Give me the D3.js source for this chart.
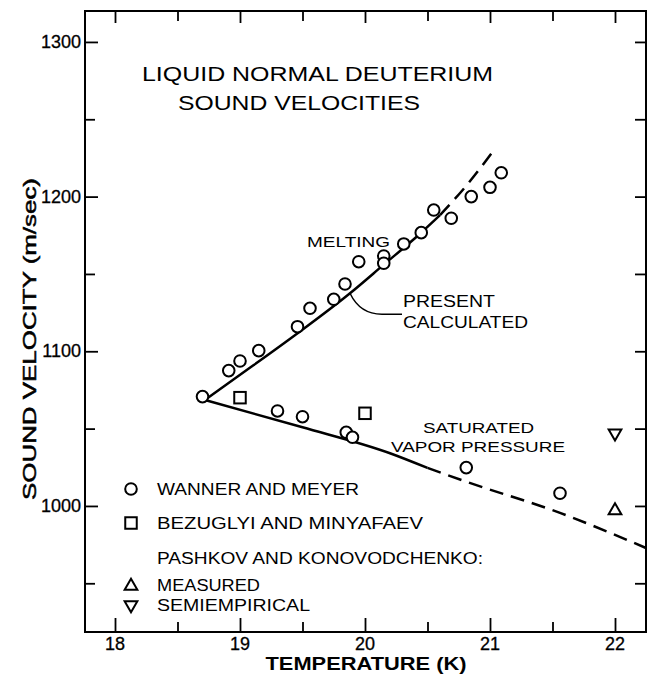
<!DOCTYPE html>
<html><head><meta charset="utf-8">
<script src="https://cdn.jsdelivr.net/npm/d3@7"></script>
<style>
body{margin:0;background:#fff}
text{font-family:"Liberation Sans",Arial,sans-serif;fill:#000}
</style>
</head><body>
<svg id="c" width="653" height="677"></svg>
<script>
// ---- data ----
const xMajorTicks = [18, 19, 20, 21, 22];
const xMinorTicks = [18.5, 19.5, 20.5, 21.5];
const yMajorTicks = [1000, 1100, 1200, 1300];
const yMinorTicks = [950, 1050, 1150, 1250];

// Wanner and Meyer (circles)
const wannerT = [18.70, 18.91, 19.00, 19.15, 19.46, 19.56, 19.75, 19.84, 19.95, 20.15, 20.15, 20.31, 20.45, 20.55, 20.69, 20.85, 21.00, 21.09,
                 19.30, 19.50, 19.85, 19.90, 20.81, 21.56];
const wannerV = [1070.7, 1087.5, 1093.7, 1100.4, 1115.9, 1127.8, 1133.6, 1143.5, 1157.9, 1161.6, 1156.9, 1169.4, 1176.7, 1191.3, 1186.0, 1200.0, 1206.0, 1215.4,
                 1061.4, 1057.7, 1047.6, 1044.4, 1024.8, 1008.2];
// Bezuglyi and Minyafaev (squares)
const bezuglyiT = [19.00, 20.00];
const bezuglyiV = [1070.0, 1059.9];
// Pashkov and Konovodchenko
const pashkovMeasT = [22.0];
const pashkovMeasV = [997];
const pashkovSemiT = [22.0];
const pashkovSemiV = [1047];

// Present calculated curves
const meltSolidT = [18.72, 18.97, 19.45, 19.88, 20.15, 20.44, 20.60];
const meltSolidV = [1068.5, 1083.0, 1111.0, 1137.5, 1156.0, 1176.0, 1188.0];
const meltDashT = [20.60, 20.82, 21.04];
const meltDashV = [1188.0, 1208.0, 1231.0];
const svpSolidT = [18.72, 19.50, 20.20, 20.50];
const svpSolidV = [1068.5, 1050.9, 1034.1, 1024.6];
const svpDashT = [20.50, 20.81, 21.56, 22.248];
const svpDashV = [1024.6, 1015.7, 995.5, 972.8];

// ---- chart ----
const svg = d3.select("#c");
const L = 85, R = 646, T = 11, B = 632;
const x = d3.scaleLinear().domain([17.76, 22.248]).range([L, R]);
const y = d3.scaleLinear().domain([918.5, 1320]).range([B, T]);

// frame
svg.append("rect").attr("x", L).attr("y", T).attr("width", R - L).attr("height", B - T)
  .attr("fill", "none").attr("stroke", "#000").attr("stroke-width", 2);

function ax(gen, tr, vals, size) {
  const g = svg.append("g").attr("transform", tr)
    .call(gen.tickValues(vals).tickSize(size).tickFormat(""));
  g.select(".domain").remove();
  g.selectAll(".tick line").attr("stroke", "#000").attr("stroke-width", 1.8);
  return g;
}
// bottom
ax(d3.axisBottom(x), `translate(0,${B})`, xMajorTicks, -14);
ax(d3.axisBottom(x), `translate(0,${B})`, xMinorTicks, -10);
// top
ax(d3.axisTop(x), `translate(0,${T})`, xMajorTicks, -12);
ax(d3.axisTop(x), `translate(0,${T})`, xMinorTicks, -10);
// left
ax(d3.axisLeft(y), `translate(${L},0)`, yMajorTicks, -13);
ax(d3.axisLeft(y), `translate(${L},0)`, yMinorTicks, -10);
// right
ax(d3.axisRight(y), `translate(${R},0)`, yMajorTicks, -11);
ax(d3.axisRight(y), `translate(${R},0)`, yMinorTicks, -11);

// tick labels
svg.append("g").selectAll("text").data(xMajorTicks).join("text")
  .attr("x", d => x(d)).attr("y", 650).attr("text-anchor", "middle")
  .attr("font-size", 18).attr("stroke", "#000").attr("stroke-width", 0.3).text(d => d);
svg.append("g").selectAll("text").data(yMajorTicks).join("text")
  .attr("x", 81).attr("y", d => y(d) + 6).attr("text-anchor", "end")
  .attr("font-size", 18).attr("stroke", "#000").attr("stroke-width", 0.3).text(d => d);

// axis titles
svg.append("text").attr("x", 366).attr("y", 670).attr("text-anchor", "middle")
  .attr("font-size", 18).attr("font-weight", "bold")
  .attr("textLength", 201).attr("lengthAdjust", "spacingAndGlyphs").text("TEMPERATURE (K)");
svg.append("text").attr("transform", "translate(36,339) rotate(-90)").attr("text-anchor", "middle")
  .attr("font-size", 18).attr("stroke", "#000").attr("stroke-width", 0.5)
  .attr("textLength", 322).attr("lengthAdjust", "spacingAndGlyphs").text("SOUND VELOCITY (m/sec)");

// curves
const line = d3.line().x(d => x(d[0])).y(d => y(d[1])).curve(d3.curveMonotoneX);
function curve(ts, vs, dash) {
  svg.append("path").datum(ts.map((t, i) => [t, vs[i]]))
    .attr("d", line).attr("fill", "none").attr("stroke", "#000").attr("stroke-width", 2.5)
    .attr("stroke-dasharray", dash ? "14,8" : null);
}
curve(meltSolidT, meltSolidV, false);
curve(meltDashT, meltDashV, true);
curve(svpSolidT, svpSolidV, false);
curve(svpDashT, svpDashV, true);

// markers
svg.append("g").selectAll("circle").data(wannerT.map((t, i) => [t, wannerV[i]])).join("circle")
  .attr("cx", d => x(d[0])).attr("cy", d => y(d[1])).attr("r", 5.8)
  .attr("fill", "#fff").attr("stroke", "#000").attr("stroke-width", 2);
const sq = 11.5;
svg.append("g").selectAll("rect").data(bezuglyiT.map((t, i) => [t, bezuglyiV[i]])).join("rect")
  .attr("x", d => x(d[0]) - sq / 2).attr("y", d => y(d[1]) - sq / 2).attr("width", sq).attr("height", sq)
  .attr("fill", "#fff").attr("stroke", "#000").attr("stroke-width", 2);
const triUp = d3.symbol().type(d3.symbolTriangle).size(70);
svg.append("g").selectAll("path").data(pashkovMeasT.map((t, i) => [t, pashkovMeasV[i]])).join("path")
  .attr("d", triUp).attr("transform", d => `translate(${x(d[0])},${y(d[1])})`)
  .attr("fill", "#fff").attr("stroke", "#000").attr("stroke-width", 2);
svg.append("g").selectAll("path").data(pashkovSemiT.map((t, i) => [t, pashkovSemiV[i]])).join("path")
  .attr("d", triUp).attr("transform", d => `translate(${x(d[0])},${y(d[1])}) rotate(180)`)
  .attr("fill", "#fff").attr("stroke", "#000").attr("stroke-width", 2);

// annotations
function txt(s, x0, yc, w, fs) {
  svg.append("text").attr("x", x0).attr("y", yc + fs * 0.36).attr("font-size", fs)
    .attr("textLength", w).attr("lengthAdjust", "spacingAndGlyphs").text(s);
}
txt("LIQUID NORMAL DEUTERIUM", 142, 74, 351, 20);
txt("SOUND VELOCITIES", 178, 103, 242, 20);
txt("MELTING", 307, 242, 83, 15);
txt("PRESENT", 403, 301, 92, 16);
txt("CALCULATED", 403, 322, 125, 16);
txt("SATURATED", 423, 428, 111, 15);
txt("VAPOR PRESSURE", 391, 447, 174, 15);

// leader line
const lx0 = x(19.88), ly0 = y(1137.5);
svg.append("path")
  .attr("d", `M${lx0},${ly0} Q${lx0 + 10},${ly0 + 21} ${lx0 + 32},${ly0 + 21} L${lx0 + 52},${ly0 + 21}`)
  .attr("fill", "none").attr("stroke", "#000").attr("stroke-width", 1.5);

// legend
const legX = 131, legTX = 157;
svg.append("circle").attr("cx", legX).attr("cy", 489).attr("r", 5.8)
  .attr("fill", "#fff").attr("stroke", "#000").attr("stroke-width", 2);
svg.append("rect").attr("x", legX - sq / 2).attr("y", 523 - sq / 2).attr("width", sq).attr("height", sq)
  .attr("fill", "#fff").attr("stroke", "#000").attr("stroke-width", 2);
svg.append("path").attr("d", triUp).attr("transform", `translate(${legX},586)`)
  .attr("fill", "#fff").attr("stroke", "#000").attr("stroke-width", 2);
svg.append("path").attr("d", triUp).attr("transform", `translate(${legX},605) rotate(180)`)
  .attr("fill", "#fff").attr("stroke", "#000").attr("stroke-width", 2);
txt("WANNER AND MEYER", legTX, 489, 202, 16);
txt("BEZUGLYI  AND  MINYAFAEV", legTX, 523, 266, 16);
txt("PASHKOV AND KONOVODCHENKO:", legTX, 558, 326, 16);
txt("MEASURED", legTX, 585, 103, 16);
txt("SEMIEMPIRICAL", legTX, 605, 153, 16);
</script>
</body></html>
